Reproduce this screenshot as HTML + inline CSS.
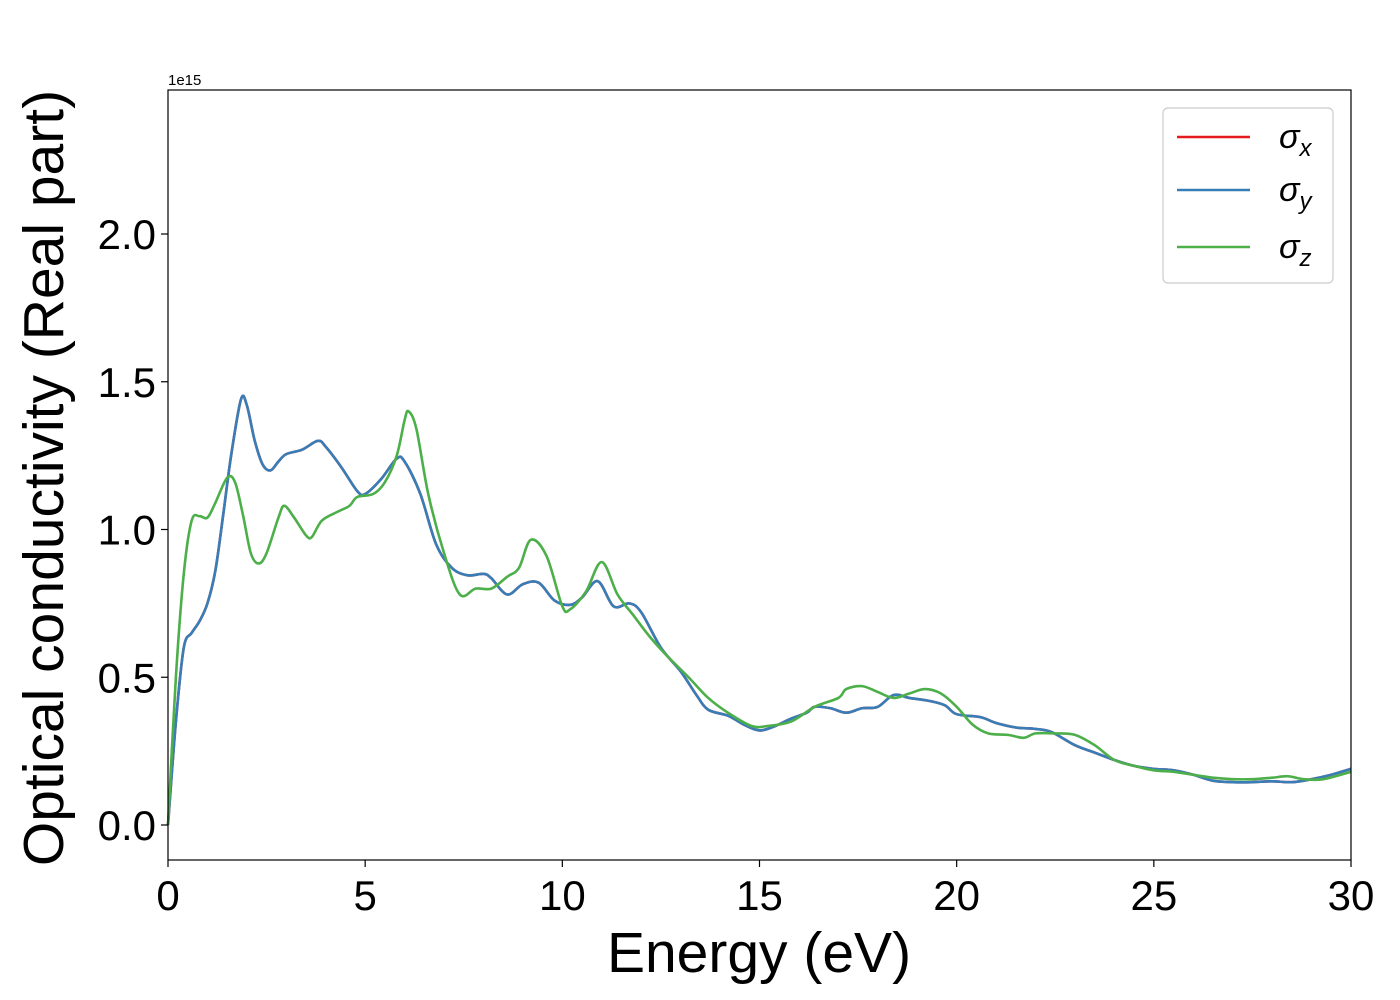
<!DOCTYPE html>
<html><head><meta charset="utf-8"><style>
body{margin:0;background:#fff;}
svg{display:block;font-family:"Liberation Sans","DejaVu Sans",sans-serif;}
</style></head><body>
<svg id="chart" width="1400" height="1000">
<rect width="1400" height="1000" fill="#fff"/>
<g id="plot"></g>
<rect x="168" y="90" width="1183" height="770" fill="none" stroke="#000" stroke-width="1.2"/>
<g id="xticks"></g><g id="yticks"></g>
<text x="168" y="85" font-size="15">1e15</text>
<text x="759" y="972" font-size="57" text-anchor="middle">Energy (eV)</text>
<text transform="translate(63,478) rotate(-90)" font-size="57" text-anchor="middle">Optical conductivity (Real part)</text>
<g>
<rect x="1163" y="108" width="170" height="175" rx="5" fill="#fff" stroke="#ccc" stroke-width="1.2"/>
<g><line x1="1177" y1="137" x2="1250" y2="137" stroke="#e41a1c" stroke-width="2.5"/><text x="1279" y="148" font-size="34" font-style="italic">σ<tspan font-size="24" dy="8">x</tspan></text></g>
<g><line x1="1177" y1="190" x2="1250" y2="190" stroke="#377eb8" stroke-width="2.5"/><text x="1279" y="201" font-size="34" font-style="italic">σ<tspan font-size="24" dy="8">y</tspan></text></g>
<g><line x1="1177" y1="247" x2="1250" y2="247" stroke="#4daf4a" stroke-width="2.5"/><text x="1279" y="258" font-size="34" font-style="italic">σ<tspan font-size="24" dy="8">z</tspan></text></g>
</g>
</svg>
<script>
const xTicks=[0,5,10,15,20,25,30];
const yTicks=[0.0,0.5,1.0,1.5,2.0];
const xyEnergy=[0,0.2,0.4,0.6,0.8,1.0,1.2,1.4,1.6,1.85,2.0,2.2,2.4,2.6,2.8,3.0,3.4,3.8,4.0,4.4,4.8,5.0,5.4,5.8,6.0,6.4,6.8,7.2,7.6,8.0,8.2,8.6,9.0,9.4,9.8,10.2,10.5,10.9,11.3,11.7,12.0,12.5,13.0,13.4,13.7,14.2,14.6,15.0,15.4,15.8,16.2,16.4,16.8,17.2,17.6,18.0,18.4,18.8,19.3,19.7,20.0,20.6,21.0,21.5,22.0,22.4,23.0,23.5,24.0,24.5,25.0,25.5,26.0,26.5,27.0,27.5,28.0,28.5,29.0,29.5,30.0];
const sigmaXY=[0,0.35,0.6,0.65,0.69,0.75,0.86,1.05,1.25,1.44,1.42,1.3,1.22,1.2,1.23,1.255,1.27,1.30,1.28,1.21,1.13,1.12,1.17,1.24,1.23,1.12,0.95,0.87,0.845,0.85,0.835,0.78,0.815,0.82,0.76,0.745,0.77,0.825,0.74,0.75,0.72,0.6,0.52,0.44,0.39,0.37,0.34,0.32,0.335,0.36,0.38,0.40,0.395,0.38,0.395,0.40,0.44,0.43,0.42,0.405,0.375,0.365,0.345,0.33,0.325,0.315,0.27,0.245,0.22,0.2,0.19,0.185,0.17,0.15,0.145,0.145,0.148,0.145,0.155,0.17,0.19];
const zEnergy=[0,0.2,0.4,0.6,0.8,1.0,1.2,1.5,1.7,1.9,2.1,2.3,2.5,2.8,2.95,3.2,3.5,3.65,3.9,4.3,4.6,4.8,5.2,5.5,5.8,6.0,6.1,6.3,6.6,7.0,7.4,7.8,8.2,8.6,8.9,9.2,9.6,10.0,10.2,10.6,11.0,11.4,11.8,12.2,12.6,13.2,13.7,14.2,14.8,15.2,15.8,16.4,17.0,17.2,17.6,18.0,18.4,18.8,19.2,19.6,20.0,20.4,20.8,21.3,21.7,22.0,22.5,23.0,23.5,24.0,24.5,25.0,25.5,26.0,26.5,27.0,27.5,28.0,28.4,28.8,29.3,30.0];
const sigmaZ=[0,0.5,0.85,1.03,1.045,1.04,1.09,1.175,1.16,1.05,0.92,0.885,0.92,1.04,1.08,1.04,0.98,0.975,1.03,1.06,1.08,1.11,1.12,1.16,1.25,1.37,1.40,1.34,1.12,0.92,0.78,0.80,0.80,0.84,0.87,0.965,0.91,0.74,0.73,0.79,0.89,0.78,0.71,0.64,0.58,0.50,0.43,0.38,0.335,0.335,0.35,0.40,0.43,0.46,0.47,0.45,0.43,0.445,0.46,0.445,0.40,0.34,0.31,0.305,0.295,0.31,0.31,0.305,0.27,0.22,0.2,0.185,0.18,0.17,0.16,0.155,0.155,0.16,0.165,0.155,0.155,0.18];
const NS="http://www.w3.org/2000/svg";
const X=v=>168+v*(1183/30);
const Y=v=>825-v*295.5;
function pathD(xs,ys){
  const p=xs.map((x,i)=>[X(x),Y(ys[i])]);
  let d=`M${p[0][0]},${p[0][1]}`;
  for(let i=0;i<p.length-1;i++){
    const p0=p[Math.max(i-1,0)],p1=p[i],p2=p[i+1],p3=p[Math.min(i+2,p.length-1)];
    const c1=[p1[0]+(p2[0]-p0[0])/6,p1[1]+(p2[1]-p0[1])/6];
    const c2=[p2[0]-(p3[0]-p1[0])/6,p2[1]-(p3[1]-p1[1])/6];
    d+=`C${c1[0]},${c1[1]} ${c2[0]},${c2[1]} ${p2[0]},${p2[1]}`;
  }
  return d;
}
const plot=document.getElementById('plot');
function line(xs,ys,color,name){
  const el=document.createElementNS(NS,'path');
  el.setAttribute('d',pathD(xs,ys));
  el.setAttribute('fill','none');
  el.setAttribute('stroke',color);
  el.setAttribute('stroke-width','2.6');
  
  
  plot.appendChild(el);
}
line(xyEnergy,sigmaXY,'#e41a1c','sigma-x-line');
line(xyEnergy,sigmaXY,'#377eb8','sigma-y-line');
line(zEnergy,sigmaZ,'#4daf4a','sigma-z-line');
const xg=document.getElementById('xticks');
xTicks.forEach(t=>{
  const l=document.createElementNS(NS,'line');
  l.setAttribute('x1',X(t));l.setAttribute('x2',X(t));l.setAttribute('y1',860);l.setAttribute('y2',867);
  l.setAttribute('stroke','#000');l.setAttribute('stroke-width','1.2');
  
  
  xg.appendChild(l);
  const tx=document.createElementNS(NS,'text');
  tx.setAttribute('x',X(t));tx.setAttribute('y',910);tx.setAttribute('font-size','42');tx.setAttribute('text-anchor','middle');
  tx.textContent=String(t);
  
  
  xg.appendChild(tx);
});
const yg=document.getElementById('yticks');
yTicks.forEach(t=>{
  const l=document.createElementNS(NS,'line');
  l.setAttribute('x1',161);l.setAttribute('x2',168);l.setAttribute('y1',Y(t));l.setAttribute('y2',Y(t));
  l.setAttribute('stroke','#000');l.setAttribute('stroke-width','1.2');
  
  
  yg.appendChild(l);
  const tx=document.createElementNS(NS,'text');
  tx.setAttribute('x',156);tx.setAttribute('y',Y(t)+15);tx.setAttribute('font-size','42');tx.setAttribute('text-anchor','end');
  tx.textContent=t.toFixed(1);
  
  
  yg.appendChild(tx);
});
</script>
</body></html>
